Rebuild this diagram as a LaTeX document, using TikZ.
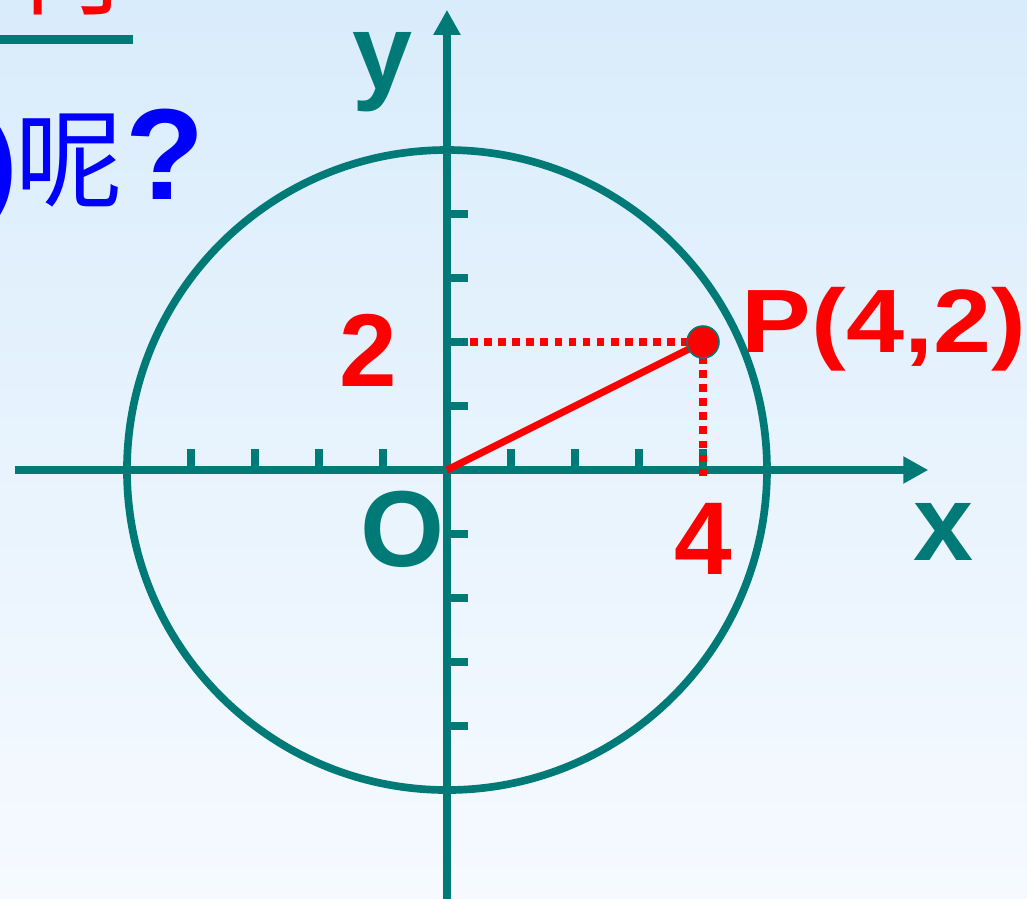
\documentclass[tikz,border=0pt]{standalone}
\usepackage{fontspec}
\setmainfont{Liberation Sans}
\newfontfamily\cjk{Noto Sans CJK SC}
\usepackage{tikz}
\usetikzlibrary{arrows.meta, positioning, calc}
\definecolor{axteal}{HTML}{007A76}
\definecolor{ptred}{HTML}{FF0000}
\definecolor{qblue}{HTML}{0000FF}
\definecolor{bgtop}{HTML}{D9ECFB}
\definecolor{bgbot}{HTML}{F6FAFF}

\begin{document}
\begin{tikzpicture}[
    axis/.style={draw=axteal, line width=0.13cm, -{Triangle[length=0.39cm, width=0.40cm]}},
    tickmark/.style={draw=axteal, line width=0.12cm},
    ring/.style={draw=axteal, line width=0.12cm},
    dotline/.style={draw=ptred, line width=0.12cm, dash pattern=on 0.12cm off 0.1cm},
    radius line/.style={draw=ptred, line width=0.11cm},
    lbl/.style={inner sep=0pt, font=\fontsize{48}{50}\selectfont\bfseries},
    numlbl/.style={inner sep=0pt, text=ptred, font=\fontsize{46}{48}\selectfont\bfseries}
]

% --- Frame and background ---
\useasboundingbox (-6.984,-6.6875) rectangle (9.0625,7.344);
\clip (-6.984,-6.6875) rectangle (9.0625,7.344);
\shade[top color=bgtop, bottom color=bgbot] (-6.984,-6.6875) rectangle (9.0625,7.344);

% --- Heading remnants (top left) ---
\node[inner sep=0pt, anchor=base west, text=ptred, font=\fontsize{48}{50}\selectfont\cjk] (head) at (-6.75,7.24) {何};
\coordinate (ulA) at (-6.984,6.73);
\coordinate (ulB) at (-4.91,6.73);
\draw[draw=axteal, line width=0.14cm] (ulA) -- (ulB);
\node[inner sep=0pt, anchor=base east, text=qblue, font=\fontsize{48}{50}\selectfont\bfseries] (ask) at (-3.78,4.22) {)\kern-1pt{\mdseries\cjk 呢}\kern1pt\scalebox{1.2}{?}};

% --- Circle and axes ---
\coordinate (O) at (0,0);
\coordinate (P) at (4,2);
\draw[ring] (O) circle[radius=5];
\coordinate (xa) at (-6.75,0);
\coordinate (xb) at (7.52,0);
\coordinate (ya) at (0,-7);
\coordinate (yb) at (0,7.19);
\draw[axis] (xa) -- (xb);
\draw[axis] (ya) -- (yb);

% --- Tick marks ---
\foreach \x in {-4,-3,-2,-1,1,2,3,4} {
    \draw[tickmark] (\x,0) -- (\x,0.33);
}
\foreach \y in {-4,-3,-2,-1,1,2,3,4} {
    \draw[tickmark] (0,\y) -- (0.33,\y);
}

% --- Point P and its projections ---
\coordinate (Py) at (0.25,2);
\coordinate (Px) at (4,-0.1);
\draw[dotline] (P) -- (Py);
\draw[dotline] (P) -- (Px);
\draw[radius line] (O) -- (P);
\node[circle, fill=ptred, draw=axteal, line width=0.7pt, minimum size=0.5cm, inner sep=0pt] (pdot) at (P) {};

% --- Labels ---
\node[lbl, anchor=base west, text=axteal] (ylab) at (-1.48,5.95) {y};
\node[lbl, anchor=base west, text=axteal] (xlab) at (7.28,-1.41) {x};
\node[lbl, anchor=base west, text=axteal] (olab) at (-1.36,-1.5) {O};
\node[numlbl, anchor=base west] (two) at (-1.68,1.31) {2};
\node[numlbl, anchor=base west] (four) at (3.55,-1.64) {4};
\node[inner sep=0pt, anchor=base west, text=ptred, font=\fontsize{40}{42}\selectfont\bfseries] (plab) at (4.6,1.84) {\scalebox{1.16}[1]{P(4,2)}};

\end{tikzpicture}
\end{document}
